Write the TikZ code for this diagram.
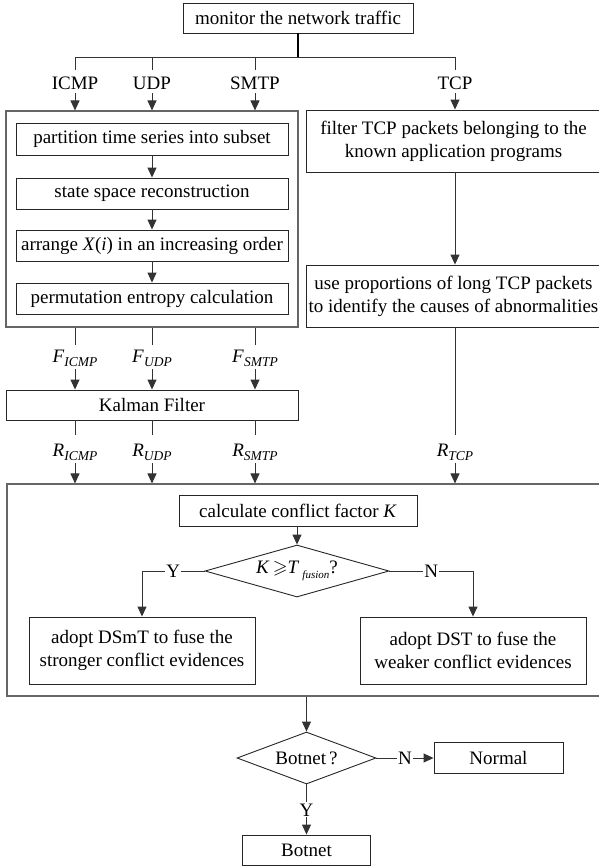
\documentclass[tikz,border=0pt]{standalone}
\usepackage{fontspec}
\usepackage{amssymb}
\setmainfont{Liberation Serif}
\usetikzlibrary{arrows.meta,shapes.geometric}

% lowered italic subscript
\newcommand{\lowsub}[3][-4pt]{\raisebox{#1}{\fontsize{#2}{#2}\selectfont\itshape #3}}

\begin{document}
\begin{tikzpicture}[x=1pt,y=-1pt,
  every node/.style={font=\fontsize{19}{23}\selectfont},
  box/.style={draw=black!85, line width=0.9pt, inner sep=0pt, align=center},
  frame/.style={draw=black!60, line width=1.1pt, inner sep=0pt},
  decision/.style={diamond, draw=black!85, line width=0.9pt, inner sep=0pt},
  wire/.style={draw=black!80, line width=0.9pt},
  trunk/.style={draw=black, line width=1.5pt},
  flow/.style={wire, -{Triangle[length=10pt,width=9pt]}},
  plabel/.style={inner sep=0pt, text height=19pt, text depth=4pt, anchor=base},
  flabel/.style={inner sep=0pt, text height=17.5pt, text depth=6.5pt, anchor=base},
  rlabel/.style={inner sep=0pt, text height=21.5pt, text depth=6.5pt, anchor=base},
  yn/.style={fill=white, inner sep=1pt, text height=13pt, text depth=0pt}
]
\useasboundingbox (0,0) rectangle (599,868);

% ---- source ----
\node[box, minimum width=230pt, minimum height=30pt] (top) at (298,18) {monitor the network traffic};
\coordinate (fork) at (298,57);

\node[plabel] (picmp) at (75,89)  {ICMP};
\node[plabel] (pudp)  at (152,89) {UDP};
\node[plabel] (psmtp) at (255,89) {SMTP};
\node[plabel] (ptcp)  at (455,89) {TCP};

% ---- permutation entropy block ----
\node[frame, minimum width=292pt, minimum height=216pt] (A) at (152,219) {};
\node[box, minimum width=272pt, minimum height=32pt] (s1) at (152,139)   {partition time series into subset};
\node[box, minimum width=272pt, minimum height=31pt] (s2) at (152,193.5) {state space reconstruction};
\node[box, minimum width=272pt, minimum height=31pt] (s3) at (152,245.5) {arrange \textit{X}(\textit{i}) in an increasing order};
\node[box, minimum width=272pt, minimum height=31pt] (s4) at (152,298.5) {permutation entropy calculation};

% ---- TCP branch ----
\node[box, minimum width=295pt, minimum height=62pt] (b1) at (453.5,141)
  {filter TCP packets belonging to the\\known application programs};
\node[box, minimum width=295pt, minimum height=62pt] (b2) at (453.5,296)
  {use proportions of long TCP packets\\to identify the causes of abnormalities};

% ---- features and Kalman filter ----
\node[flabel] (ficmp) at (75,362.7)  {\textit{F}\lowsub{13.5}{ICMP}};
\node[flabel] (fudp)  at (152,362.7) {\textit{F}\lowsub{13.5}{UDP}};
\node[flabel] (fsmtp) at (255,362.7) {\textit{F}\lowsub{13.5}{SMTP}};

\node[box, minimum width=292pt, minimum height=30pt] (kf) at (152,405) {Kalman Filter};

\node[rlabel] (ricmp) at (75,456.7)  {\textit{R}\lowsub{13.5}{ICMP}};
\node[rlabel] (rudp)  at (152,456.7) {\textit{R}\lowsub{13.5}{UDP}};
\node[rlabel] (rsmtp) at (255,456.7) {\textit{R}\lowsub{13.5}{SMTP}};
\node[rlabel] (rtcp)  at (455,456.7) {\textit{R}\lowsub{13.5}{TCP}};

% ---- fusion block ----
\node[frame, minimum width=594pt, minimum height=212pt] (C) at (304,590) {};
\node[box, minimum width=238pt, minimum height=31pt] (ck) at (298,510.5) {calculate conflict factor \textit{K}};
\node[decision, minimum width=184pt, minimum height=52pt, aspect=3.5] (d1) at (297,571)
  {\textit{K}\,$\geqslant$\textit{T}\,\lowsub[-5pt]{11}{fusion}?};
\node[box, minimum width=226pt, minimum height=67pt] (dsmt) at (142,650.5)
  {adopt DSmT to fuse the\\stronger conflict evidences};
\node[box, minimum width=226pt, minimum height=67pt] (dst) at (473,650.5)
  {adopt DST to fuse the\\weaker conflict evidences};

% ---- verdict ----
\node[decision, minimum width=139pt, minimum height=52pt, aspect=2.67] (d2) at (306.5,758) {Botnet\,?};
\node[box, minimum width=129pt, minimum height=31pt] (normal) at (498.5,758) {Normal};
\node[box, minimum width=128pt, minimum height=30pt] (bot) at (306.5,850) {Botnet};

% ---- connectors ----
\draw[trunk] (top.south) -- (fork);
\draw[wire] (picmp.north) -- (picmp.north |- fork) -- (ptcp.north |- fork) -- (ptcp.north);
\draw[wire] (pudp.north) -- (pudp.north |- fork);
\draw[wire] (psmtp.north) -- (psmtp.north |- fork);
\foreach \p in {picmp,pudp,psmtp}
  \draw[flow] (\p.south) -- (\p.south |- A.north);
\draw[flow] (ptcp.south) -- (ptcp.south |- b1.north);

\draw[flow] (s1) -- (s2);
\draw[flow] (s2) -- (s3);
\draw[flow] (s3) -- (s4);

\draw[flow] (ptcp |- b1.south) -- (ptcp |- b2.north);

\foreach \f/\r in {ficmp/ricmp,fudp/rudp,fsmtp/rsmtp}{
  \draw[wire] (\f.north |- A.south) -- (\f.north);
  \draw[flow] (\f.south) -- (\f.south |- kf.north);
  \draw[wire] (\r.north |- kf.south) -- (\r.north);
  \draw[flow] (\r.south) -- (\r.south |- C.north);
}
\draw[wire] (rtcp.north |- b2.south) -- (rtcp.north);
\draw[flow] (rtcp.south) -- (rtcp.south |- C.north);

\draw[flow] (d1.north |- ck.south) -- (d1.north);
\draw[flow] (d1.west) -- node[yn] {Y} (dsmt.north |- d1.west) -- (dsmt.north);
\draw[flow] (d1.east) -- node[yn] {N} (dst.north |- d1.east) -- (dst.north);

\draw[flow] (d2.north |- C.south) -- (d2.north);
\draw[flow] (d2.east) -- node[yn] {N} (normal.west);
\draw[flow] (d2.south) -- node[yn] {Y} (bot.north);
\end{tikzpicture}
\end{document}
